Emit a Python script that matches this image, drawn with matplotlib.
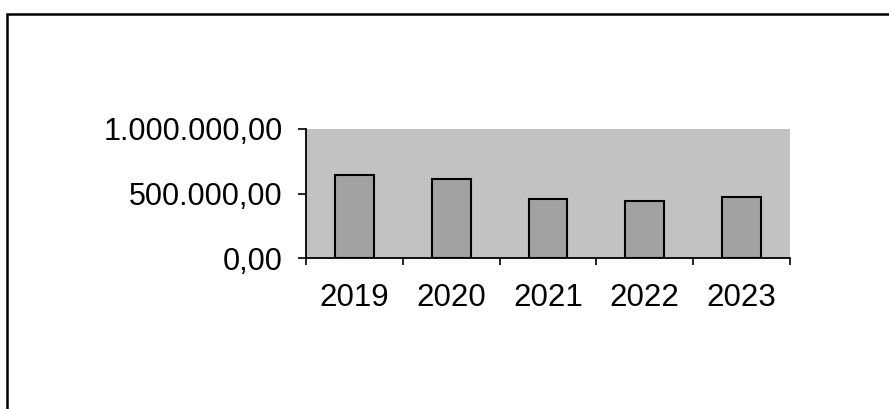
import matplotlib
matplotlib.use("Agg")
from matplotlib import pyplot as plt
from matplotlib.patches import Rectangle
from matplotlib.ticker import FuncFormatter, FixedLocator
import numpy as np

# yearly totals
years = ["2019", "2020", "2021", "2022", "2023"]
values = [643000, 615000, 455000, 440000, 473000]
y_ticks = [0, 500000, 1000000]


def de_format(v, pos=None):
    s = f"{v:,.2f}"
    return s.replace(",", "X").replace(".", ",").replace("X", ".")


plt.rcParams["font.family"] = ["Liberation Sans", "DejaVu Sans"]

fig = plt.figure(figsize=(8.89, 4.09), dpi=100)
fig.patch.set_facecolor("white")

# outer frame, runs off the right and bottom edge
fig.patches.append(Rectangle((7 / 889, -0.1), 1.2, 1 - 14 / 409 + 0.1,
                             transform=fig.transFigure, fill=False,
                             edgecolor="black", linewidth=1.8))

ax = fig.add_axes([306 / 889, 1 - 258 / 409, 484 / 889, 129 / 409])
ax.set_facecolor("#c2c2c2")

x = np.arange(len(years))
ax.bar(x, values, width=0.4, color="#a2a2a2", edgecolor="black", linewidth=1.5, zorder=3)

ax.set_xlim(-0.5, len(years) - 0.5)
ax.set_ylim(0, 1000000)

ax.set_yticks(y_ticks)
ax.yaxis.set_major_formatter(FuncFormatter(de_format))
ax.tick_params(axis="y", direction="out", length=6, width=1.2, pad=11, labelsize=22)

ax.set_xticks(x)
ax.set_xticklabels(years)
ax.xaxis.set_minor_locator(FixedLocator(np.arange(-0.5, len(years), 1.0)))
ax.tick_params(axis="x", which="major", length=0, pad=18, labelsize=22.5)
ax.tick_params(axis="x", which="minor", direction="out", length=5, width=1.2)

for side in ("top", "right"):
    ax.spines[side].set_visible(False)
for side in ("left", "bottom"):
    ax.spines[side].set_linewidth(1.3)

fig.savefig("out.png", dpi=100)
